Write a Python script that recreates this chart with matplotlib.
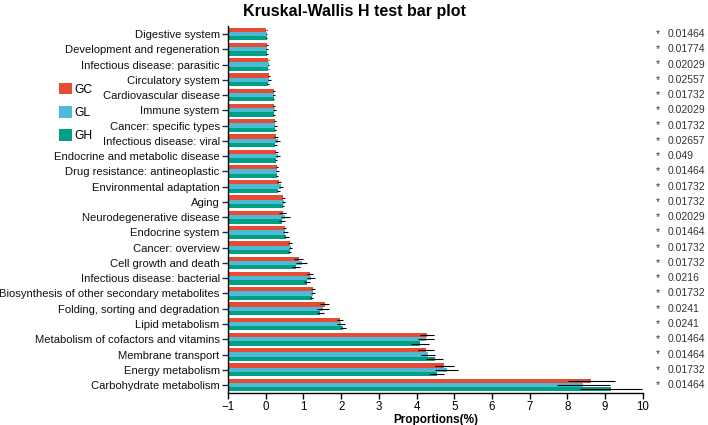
import numpy as np
import matplotlib
matplotlib.use('Agg')
import matplotlib.pyplot as plt
from matplotlib.patches import Patch

plt.rcParams['font.family'] = ['Liberation Sans', 'DejaVu Sans']

# Pathways, top to bottom
pathways = [
    'Digestive system', 'Development and regeneration', 'Infectious disease: parasitic',
    'Circulatory system', 'Cardiovascular disease', 'Immune system',
    'Cancer: specific types', 'Infectious disease: viral', 'Endocrine and metabolic disease',
    'Drug resistance: antineoplastic', 'Environmental adaptation', 'Aging',
    'Neurodegenerative disease', 'Endocrine system', 'Cancer: overview',
    'Cell growth and death', 'Infectious disease: bacterial',
    'Biosynthesis of other secondary metabolites', 'Folding, sorting and degradation',
    'Lipid metabolism', 'Metabolism of cofactors and vitamins', 'Membrane transport',
    'Energy metabolism', 'Carbohydrate metabolism',
]

p_values = ['0.01464', '0.01774', '0.02029', '0.02557', '0.01732', '0.02029', '0.01732',
            '0.02657', '0.049', '0.01464', '0.01732', '0.01732', '0.02029', '0.01464',
            '0.01732', '0.01732', '0.0216', '0.01732', '0.0241', '0.0241', '0.01464',
            '0.01464', '0.01732', '0.01464']

gc_mean = [0.02, 0.04, 0.07, 0.08, 0.22, 0.22, 0.25, 0.27, 0.28, 0.30, 0.35, 0.46,
           0.45, 0.50, 0.65, 0.87, 1.17, 1.25, 1.57, 1.98, 4.27, 4.25, 4.74, 8.63]
gl_mean = [0.03, 0.04, 0.08, 0.10, 0.23, 0.24, 0.26, 0.32, 0.32, 0.31, 0.40, 0.48,
           0.52, 0.52, 0.66, 0.95, 1.20, 1.25, 1.52, 2.00, 4.25, 4.31, 4.80, 8.42]
gh_mean = [0.03, 0.04, 0.07, 0.06, 0.21, 0.22, 0.24, 0.25, 0.27, 0.30, 0.33, 0.45,
           0.42, 0.55, 0.64, 0.80, 1.10, 1.22, 1.45, 2.05, 4.09, 4.48, 4.53, 9.16]

gc_err = [0.01, 0.02, 0.02, 0.03, 0.02, 0.03, 0.03, 0.05, 0.04, 0.03, 0.05, 0.04,
          0.10, 0.05, 0.05, 0.12, 0.08, 0.05, 0.12, 0.08, 0.18, 0.20, 0.25, 0.62]
gl_err = [0.01, 0.02, 0.02, 0.03, 0.03, 0.04, 0.04, 0.06, 0.05, 0.03, 0.06, 0.04,
          0.12, 0.06, 0.05, 0.15, 0.10, 0.05, 0.15, 0.10, 0.20, 0.18, 0.30, 0.70]
gh_err = [0.01, 0.02, 0.02, 0.02, 0.02, 0.03, 0.03, 0.04, 0.03, 0.02, 0.04, 0.03,
          0.08, 0.07, 0.04, 0.10, 0.08, 0.04, 0.10, 0.08, 0.25, 0.22, 0.20, 0.82]

groups = ['GC', 'GL', 'GH']
colors = ['#E64B35', '#4DBBD5', '#00A087']
means = [gc_mean, gl_mean, gh_mean]
errs = [gc_err, gl_err, gh_err]

fig = plt.figure(figsize=(7.08, 4.25), dpi=100)
ax = fig.add_axes([0.322, 0.076, 0.586, 0.862])

y = np.arange(len(pathways))
h = 0.28
x0 = -1  # bars start at the left edge of the axis
for i, (m, e, c) in enumerate(zip(means, errs, colors)):
    m = np.array(m)
    ax.barh(y + (i - 1) * h, m - x0, left=x0, height=h, color=c, edgecolor='none')
    ax.errorbar(m, y + (i - 1) * h, xerr=e, fmt='none', ecolor='black',
                elinewidth=0.8, capsize=0)

ax.set_xlim(-1, 10)
ax.set_ylim(len(pathways) - 0.5, -0.5)
ax.set_xticks(range(-1, 11))
ax.set_yticks(y)
ax.set_yticklabels(pathways, fontsize=8.1, color='#111111')
ax.tick_params(axis='x', labelsize=8.3, length=4, width=1, pad=2)
ax.tick_params(axis='y', length=4, width=1, pad=2, color='#1f2a44')
for s in ['top', 'right']:
    ax.spines[s].set_visible(False)
ax.spines['left'].set_linewidth(1)
ax.spines['bottom'].set_linewidth(1)

ax.set_xlabel('Proportions(%)', fontsize=8.5, fontweight='bold', labelpad=1)
fig.text(0.5, 0.972, 'Kruskal-Wallis H test bar plot', ha='center', va='center',
         fontsize=11.5, fontweight='bold')

# p-values on the right
trans = ax.get_yaxis_transform()
for yi, p in zip(y, p_values):
    ax.text(1.035, yi, '*', transform=trans, ha='center', va='center',
            fontsize=7.5, color='#333333', clip_on=False)
    ax.text(1.06, yi, p, transform=trans, ha='left', va='center',
            fontsize=7.5, color='#333333', clip_on=False)

handles = [Patch(facecolor=c, label=g) for g, c in zip(groups, colors)]
fig.legend(handles=handles, loc='upper left', bbox_to_anchor=(0.084, 0.805),
           frameon=False, fontsize=8.7, handlelength=1.0, handleheight=1.1,
           handletextpad=0.2, labelspacing=0.85, borderaxespad=0, borderpad=0)

fig.savefig('out.png', dpi=100)
